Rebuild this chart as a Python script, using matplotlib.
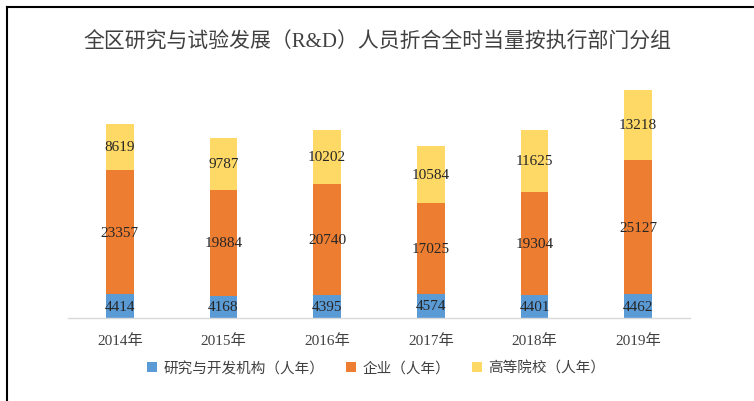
import matplotlib
matplotlib.use("Agg")
import matplotlib.pyplot as plt
from matplotlib.lines import Line2D
import numpy as np

years = ["2014年", "2015年", "2016年", "2017年", "2018年", "2019年"]
research = [4414, 4168, 4395, 4574, 4401, 4462]
enterprise = [23357, 19884, 20740, 17025, 19304, 25127]
college = [8619, 9787, 10202, 10584, 11625, 13218]
series_names = ["研究与开发机构（人年）", "企业（人年）", "高等院校（人年）"]
title = "全区研究与试验发展（R&D）人员折合全时当量按执行部门分组"

colors = ["#5B9BD5", "#ED7D31", "#FFD966"]
fam = ["Liberation Serif", "Noto Sans CJK SC", "DejaVu Sans"]
plt.rcParams['font.family'] = fam

fig = plt.figure(figsize=(7.54, 4.02), dpi=100)
ax = fig.add_axes([68/754, 83/402, 622/754, 240/402])

x = np.arange(len(years))
w = 0.27
bottoms = np.zeros(len(years))
for vals, c, name in zip([research, enterprise, college], colors, series_names):
    bars = ax.bar(x, vals, w, bottom=bottoms, color=c, label=name)
    ax.bar_label(bars, labels=[str(v) for v in vals], label_type='center',
                 fontsize=11, color="#262626", family=fam)
    bottoms += np.array(vals)

ax.set_xlim(-0.5, len(years) - 0.5)
ax.set_ylim(0, 45000)
ax.set_xticks(x)
ax.set_xticklabels(years, fontsize=11, color="#404040")
ax.tick_params(axis='x', length=0, pad=11)
ax.set_yticks([])
for s in ["left", "right", "top"]:
    ax.spines[s].set_visible(False)
ax.spines["bottom"].set_color("#D9D9D9")
ax.spines["bottom"].set_linewidth(1.0)

fig.text(0.5, 1 - 43/402, title, ha='center', va='center', fontsize=15,
         color="#404040", family=fam)

leg = fig.legend(loc='center', bbox_to_anchor=(376/754, 1 - 369/402), ncol=3,
                 frameon=False, fontsize=10.5, handlelength=0.7, handleheight=0.7,
                 handletextpad=0.4, columnspacing=1.5)
for t in leg.get_texts():
    t.set_color("#404040")

fig.add_artist(Line2D([7/754, 7/754], [0, 1 - 8/402], color="black", lw=1.5,
                      transform=fig.transFigure))
fig.add_artist(Line2D([7/754, 1], [1 - 8/402, 1 - 8/402], color="black", lw=1.5,
                      transform=fig.transFigure))

fig.savefig("out.png", dpi=100, facecolor="white")
